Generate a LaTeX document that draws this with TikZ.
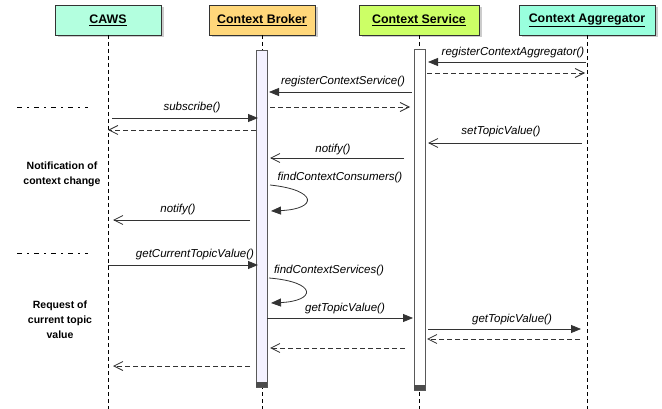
\documentclass[tikz,border=0pt]{standalone}
\usepackage{fontspec}
\setmainfont{Liberation Sans}
\usetikzlibrary{arrows.meta,shadows}

\definecolor{cawsfill}{HTML}{B3FFDF}
\definecolor{brokerfill}{HTML}{FFD77A}
\definecolor{servicefill}{HTML}{CCFF66}
\definecolor{aggfill}{HTML}{99FFDD}
\definecolor{barfill}{HTML}{F4F2FF}
\definecolor{ink}{HTML}{333333}

\begin{document}
\begin{tikzpicture}[x=1pt,y=-1pt,
  actor/.style={draw=black!80, line width=0.6pt, minimum height=30pt,
    inner sep=0pt, outer sep=0pt,
    font=\fontsize{12.4}{14}\selectfont\bfseries,
    drop shadow={shadow xshift=2.5pt, shadow yshift=-2.5pt, opacity=0.4}},
  actbar/.style={draw=black!65, line width=1pt, minimum width=11pt,
    inner sep=0pt, outer sep=0pt, anchor=north},
  lifeline/.style={draw=black, line width=0.7pt, dash pattern=on 4pt off 3pt},
  call/.style={draw=ink, line width=0.8pt, -{Triangle[length=10pt,width=8pt]}},
  async/.style={draw=ink, line width=0.8pt,
    -{Straight Barb[length=9pt,width=9pt,line width=0.8pt]}},
  reply/.style={async, dash pattern=on 5pt off 3pt},
  msg/.style={font=\fontsize{11.5}{13}\selectfont\itshape, inner sep=0pt},
  phase/.style={font=\fontsize{10.5}{15}\selectfont\bfseries, align=center, inner sep=0pt},
  sep/.style={draw=black, line width=0.7pt, dash pattern=on 5pt off 5pt on 2pt off 5pt}
]
\useasboundingbox (0,0) rectangle (662,409);

% participants
\node[actor, fill=cawsfill, minimum width=106pt] (caws) at (108,20) {\underline{CAWS}};
\node[actor, fill=brokerfill, minimum width=106pt] (broker) at (262,20) {\underline{Context Broker}};
\node[actor, fill=servicefill, minimum width=120pt] (service) at (419,20) {\underline{Context Service}};
\node[actor, fill=aggfill, minimum width=136pt] (agg) at (587,20) {\underline{Context Aggregator}};

% lifelines
\coordinate (bottom) at (0,409);
\foreach \p in {caws,broker,service,agg}
  \draw[lifeline] (\p.south) -- (\p.south |- bottom);

% activation bars
\node[actbar, fill=barfill, minimum height=336pt] (bbar) at (261.5,51) {};
\fill[black!70] (bbar.south west) rectangle ([yshift=5pt]bbar.south east);
\node[actbar, fill=white, minimum height=340pt] (sbar) at (419.5,50) {};
\fill[black!70] (sbar.south west) rectangle ([yshift=5pt]sbar.south east);

% separators between phases
\coordinate (s1a) at (17,107); \coordinate (s1b) at (88,107);
\coordinate (s2a) at (17,253); \coordinate (s2b) at (88,253);
\draw[sep] (s1a) -- (s1b);
\draw[sep] (s2a) -- (s2b);

% phase captions
\node[phase] (ph1) at (62,174) {Notification of\\context change};
\node[phase] (ph2) at (60,320) {Request of\\current topic\\value};

% message rows
\coordinate (r1) at (0,62);   \coordinate (r2) at (0,73);
\coordinate (r3) at (0,92);   \coordinate (r4) at (0,107);
\coordinate (r5) at (0,118);  \coordinate (r6) at (0,130);
\coordinate (r7) at (0,143);  \coordinate (r8) at (0,158);
\coordinate (r9a) at (0,185); \coordinate (r9b) at (0,211);
\coordinate (r10) at (0,220); \coordinate (r11) at (0,265);
\coordinate (r12a) at (0,278); \coordinate (r12b) at (0,303);
\coordinate (r13) at (0,318); \coordinate (r14) at (0,329);
\coordinate (r15) at (0,339); \coordinate (r16) at (0,348);
\coordinate (r17) at (0,366);

% registration
\draw[call] ([xshift=-1pt]agg.south |- r1) -- ([xshift=3pt]sbar.east |- r1);
\node[msg] (l1) at (513,53) {registerContextAggregator()};
\draw[reply] ([xshift=2pt]sbar.east |- r2) -- ([xshift=-2pt]agg.south |- r2);

\draw[call] ([xshift=-2pt]sbar.west |- r3) -- ([xshift=2pt]bbar.east |- r3);
\node[msg] (l2) at (343,82) {registerContextService()};
\draw[reply] ([xshift=3pt]bbar.east |- r4) -- ([xshift=-4pt]sbar.west |- r4);

\draw[call] ([xshift=4pt]caws.south |- r5) -- ([xshift=2pt]bbar.west |- r5);
\node[msg] (l3) at (192,108) {subscribe()};
\draw[reply] (bbar.west |- r6) -- (caws.south |- r6);

% notification of context change
\draw[async] ([xshift=-5pt]agg.south |- r7) -- ([xshift=3pt]sbar.east |- r7);
\node[msg] (l4) at (501,132) {setTopicValue()};
\draw[async] ([xshift=-10pt]sbar.west |- r8) -- ([xshift=3pt]bbar.east |- r8);
\node[msg] (l5) at (333,150) {notify()};
\draw[call] ([xshift=3pt]bbar.east |- r9a) .. controls (318,190) and (318,209) .. ([xshift=4pt]bbar.east |- r9b);
\node[msg] (l6) at (340,178) {findContextConsumers()};
\draw[async] ([xshift=-6pt]bbar.west |- r10) -- ([xshift=5pt]caws.south |- r10);
\node[msg] (l7) at (178,210) {notify()};

% request of current topic value
\draw[call] (caws.south |- r11) -- ([xshift=2pt]bbar.west |- r11);
\node[msg] (l8) at (195,255) {getCurrentTopicValue()};
\draw[call] ([xshift=2pt]bbar.east |- r12a) .. controls (318,282) and (316,301) .. ([xshift=4pt]bbar.east |- r12b);
\node[msg] (l9) at (329,271) {findContextServices()};
\draw[call] (bbar.east |- r13) -- ([xshift=-1pt]sbar.west |- r13);
\node[msg] (l10) at (345,309) {getTopicValue()};
\draw[call] ([xshift=3pt]sbar.east |- r14) -- ([xshift=-6pt]agg.south |- r14);
\node[msg] (l11) at (512,320) {getTopicValue()};
\draw[reply] ([xshift=-7pt]agg.south |- r15) -- ([xshift=2pt]sbar.east |- r15);
\draw[reply] ([xshift=-9pt]sbar.west |- r16) -- ([xshift=3pt]bbar.east |- r16);
\draw[reply] ([xshift=-6pt]bbar.west |- r17) -- ([xshift=5pt]caws.south |- r17);
\end{tikzpicture}
\end{document}
